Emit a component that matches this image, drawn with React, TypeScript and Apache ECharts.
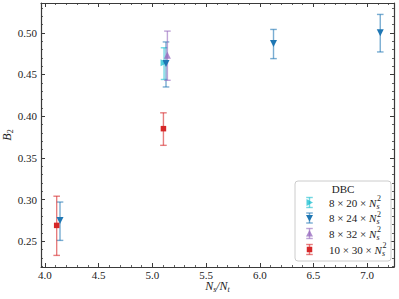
import React, { useEffect, useRef } from 'react';
import * as echarts from 'echarts';

// ---- data ----
const ns20X = [5.109];
const ns20Y = [0.464];
const ns20Lo = [0.444];
const ns20Hi = [0.482];

const ns24X = [4.14, 5.127, 6.128, 7.122];
const ns24Y = [0.275, 0.463, 0.487, 0.5];
const ns24Lo = [0.251, 0.435, 0.469, 0.477];
const ns24Hi = [0.297, 0.489, 0.504, 0.522];

const ns32X = [5.14];
const ns32Y = [0.473];
const ns32Lo = [0.443];
const ns32Hi = [0.502];

const ns30X = [4.109, 5.103];
const ns30Y = [0.269, 0.385];
const ns30Lo = [0.233, 0.365];
const ns30Hi = [0.304, 0.404];

const seriesLabels = ['8 × 20 × ', '8 × 24 × ', '8 × 32 × ', '10 × 30 × '];
const legendTitle = 'DBC';
const xRange = [3.963, 7.25];
const yRange = [0.2191, 0.5357];

const FONT = 'Liberation Serif';
const AX = '#3a3a3a';

type S = {
  label: string; color: string; symbol: string; rotate: number; size: number; opacity: number;
  x: number[]; y: number[]; lo: number[]; hi: number[]; kind: 'right' | 'down' | 'up' | 'square';
};

const groups: S[] = [
  { label: seriesLabels[0], color: '#17becf', symbol: 'triangle', rotate: -90, size: 7, opacity: 0.75, x: ns20X, y: ns20Y, lo: ns20Lo, hi: ns20Hi, kind: 'right' },
  { label: seriesLabels[1], color: '#1f77b4', symbol: 'triangle', rotate: 180, size: 7, opacity: 1, x: ns24X, y: ns24Y, lo: ns24Lo, hi: ns24Hi, kind: 'down' },
  { label: seriesLabels[2], color: '#9467bd', symbol: 'triangle', rotate: 0, size: 7, opacity: 0.75, x: ns32X, y: ns32Y, lo: ns32Lo, hi: ns32Hi, kind: 'up' },
  { label: seriesLabels[3], color: '#d62728', symbol: 'rect', rotate: 0, size: 5.5, opacity: 1, x: ns30X, y: ns30Y, lo: ns30Lo, hi: ns30Hi, kind: 'square' },
];

function measure(text: string, font: string): number {
  const c = document.createElement('canvas');
  const ctx = c.getContext('2d');
  if (!ctx) return text.length * 5.5;
  ctx.font = font;
  return ctx.measureText(text).width;
}

function axis(kind: 'x' | 'y', position: string, showLabel: boolean) {
  const range = kind === 'x' ? xRange : yRange;
  return {
    type: 'value',
    min: range[0],
    max: range[1],
    position,
    axisLine: { show: true, onZero: false, lineStyle: { color: AX, width: 1.2 } },
    axisTick: { show: true, inside: true, length: 4, lineStyle: { color: AX, width: 1 } },
    minorTick: { show: true, splitNumber: 5, length: 2, lineStyle: { color: AX, width: 0.8 } },
    splitLine: { show: false },
    minorSplitLine: { show: false },
    axisLabel: {
      show: showLabel,
      showMinLabel: false,
      showMaxLabel: false,
      margin: kind === 'x' ? 2 : 4,
      fontFamily: FONT,
      fontSize: 11,
      color: '#222',
      formatter: (v: number) => (kind === 'x' ? v.toFixed(1) : v.toFixed(2)),
    },
  };
}

export default function App() {
  const ref = useRef<HTMLDivElement>(null);
  useEffect(() => {
    if (!ref.current) return;
    const chart = echarts.init(ref.current, null, { renderer: 'svg' });

    const series: any[] = [];
    groups.forEach((g) => {
      series.push({
        type: 'custom',
        name: g.label + 'err',
        data: g.x.map((x, i) => [x, g.lo[i], g.hi[i]]),
        z: 2,
        renderItem: (params: any, api: any) => {
          const x = api.value(0);
          const p1 = api.coord([x, api.value(1)]);
          const p2 = api.coord([x, api.value(2)]);
          const w = 3.3;
          const style = { stroke: g.color, lineWidth: 1.4, opacity: 0.6 };
          return {
            type: 'group',
            children: [
              { type: 'line', shape: { x1: p1[0], y1: p1[1], x2: p2[0], y2: p2[1] }, style },
              { type: 'line', shape: { x1: p1[0] - w, y1: p1[1], x2: p1[0] + w, y2: p1[1] }, style },
              { type: 'line', shape: { x1: p2[0] - w, y1: p2[1], x2: p2[0] + w, y2: p2[1] }, style },
            ],
          };
        },
      });
      series.push({
        type: 'scatter',
        name: g.label,
        data: g.x.map((x, i) => [x, g.y[i]]),
        symbol: g.symbol,
        symbolRotate: g.rotate,
        symbolSize: g.size,
        itemStyle: { color: g.color, opacity: g.opacity },
        z: 3,
      });
    });

    // legend graphics
    const lx = 295, ly = 181, lw = 96, lh = 80;
    const rowY = [202.5, 218, 233.5, 249.5];
    const iconX = 309.5;
    const textX = 329;
    const graphics: any[] = [
      { type: 'rect', shape: { x: lx, y: ly, width: lw, height: lh, r: 3 }, style: { fill: 'rgba(255,255,255,0.85)', stroke: '#cccccc', lineWidth: 1 }, z: 10 },
      { type: 'text', x: lx + lw / 2, y: 188.5, style: { text: legendTitle, font: `11px ${FONT}`, fill: '#222', align: 'center', verticalAlign: 'middle' }, z: 11 },
    ];
    groups.forEach((g, i) => {
      const y = rowY[i];
      const st = { stroke: g.color, lineWidth: 1.4, opacity: 0.6 };
      graphics.push(
        { type: 'line', shape: { x1: iconX, y1: y - 5, x2: iconX, y2: y + 5 }, style: st, z: 11 },
        { type: 'line', shape: { x1: iconX - 3.3, y1: y - 5, x2: iconX + 3.3, y2: y - 5 }, style: st, z: 11 },
        { type: 'line', shape: { x1: iconX - 3.3, y1: y + 5, x2: iconX + 3.3, y2: y + 5 }, style: st, z: 11 },
      );
      const mstyle = { fill: g.color, opacity: g.opacity };
      let pts: number[][] = [];
      if (g.kind === 'right') pts = [[iconX - 3, y - 3.5], [iconX + 3.5, y], [iconX - 3, y + 3.5]];
      if (g.kind === 'down') pts = [[iconX - 3.5, y - 3], [iconX + 3.5, y - 3], [iconX, y + 3.5]];
      if (g.kind === 'up') pts = [[iconX - 3.5, y + 3], [iconX + 3.5, y + 3], [iconX, y - 3.5]];
      if (g.kind === 'square') {
        graphics.push({ type: 'rect', shape: { x: iconX - 2.75, y: y - 2.75, width: 5.5, height: 5.5 }, style: mstyle, z: 12 });
      } else {
        graphics.push({ type: 'polygon', shape: { points: pts }, style: mstyle, z: 12 });
      }
      const w = measure(g.label, `11px ${FONT}`) + measure('N', `italic 11px ${FONT}`);
      graphics.push(
        {
          type: 'text', x: textX, y,
          style: {
            text: `{u|${g.label}}{i|N}`,
            rich: {
              u: { font: `11px ${FONT}`, fill: '#222' },
              i: { font: `italic 11px ${FONT}`, fill: '#222' },
            },
            align: 'left', verticalAlign: 'middle',
          },
          z: 11,
        },
        { type: 'text', x: textX + w + 0.8, y: y - 4, style: { text: '2', font: `8px ${FONT}`, fill: '#222', align: 'left', verticalAlign: 'middle' }, z: 11 },
        { type: 'text', x: textX + w + 0.3, y: y + 3.5, style: { text: 's', font: `italic 8px ${FONT}`, fill: '#222', align: 'left', verticalAlign: 'middle' }, z: 11 },
      );
    });

    // axis titles
    const wN = measure('N', `italic 12px ${FONT}`);
    const wS = measure('s', `italic 8px ${FONT}`);
    const wSl = measure('/N', `italic 12px ${FONT}`);
    const wT = measure('t', `italic 8px ${FONT}`);
    const total = wN + wS + wSl + wT;
    const x0 = 217.5 - total / 2;
    const ty = 286;
    graphics.push(
      { type: 'text', x: x0, y: ty, style: { text: 'N', font: `italic 12px ${FONT}`, fill: '#222', align: 'left', verticalAlign: 'middle' } },
      { type: 'text', x: x0 + wN, y: ty + 3.5, style: { text: 's', font: `italic 8px ${FONT}`, fill: '#222', align: 'left', verticalAlign: 'middle' } },
      { type: 'text', x: x0 + wN + wS, y: ty, style: { text: '/N', font: `italic 12px ${FONT}`, fill: '#222', align: 'left', verticalAlign: 'middle' } },
      { type: 'text', x: x0 + wN + wS + wSl, y: ty + 3.5, style: { text: 't', font: `italic 8px ${FONT}`, fill: '#222', align: 'left', verticalAlign: 'middle' } },
    );
    const wB = measure('B', `italic 12px ${FONT}`);
    const w2 = measure('2', `8px ${FONT}`);
    graphics.push({
      type: 'group', x: 7, y: 135, rotation: Math.PI / 2,
      children: [
        { type: 'text', x: -(wB + w2) / 2, y: 0, style: { text: 'B', font: `italic 12px ${FONT}`, fill: '#222', align: 'left', verticalAlign: 'middle' } },
        { type: 'text', x: -(wB + w2) / 2 + wB, y: 3.5, style: { text: '2', font: `8px ${FONT}`, fill: '#222', align: 'left', verticalAlign: 'middle' } },
      ],
    });

    chart.setOption({
      animation: false,
      backgroundColor: '#ffffff',
      grid: { left: 41, right: 5, top: 3, bottom: 32, containLabel: false },
      xAxis: [axis('x', 'bottom', true), axis('x', 'top', false)],
      yAxis: [axis('y', 'left', true), axis('y', 'right', false)],
      series,
      graphic: { elements: graphics },
    });
    return () => chart.dispose();
  }, []);
  return <div ref={ref} style={{ position: 'fixed', left: 0, top: 0, width: 399, height: 299 }} />;
}
